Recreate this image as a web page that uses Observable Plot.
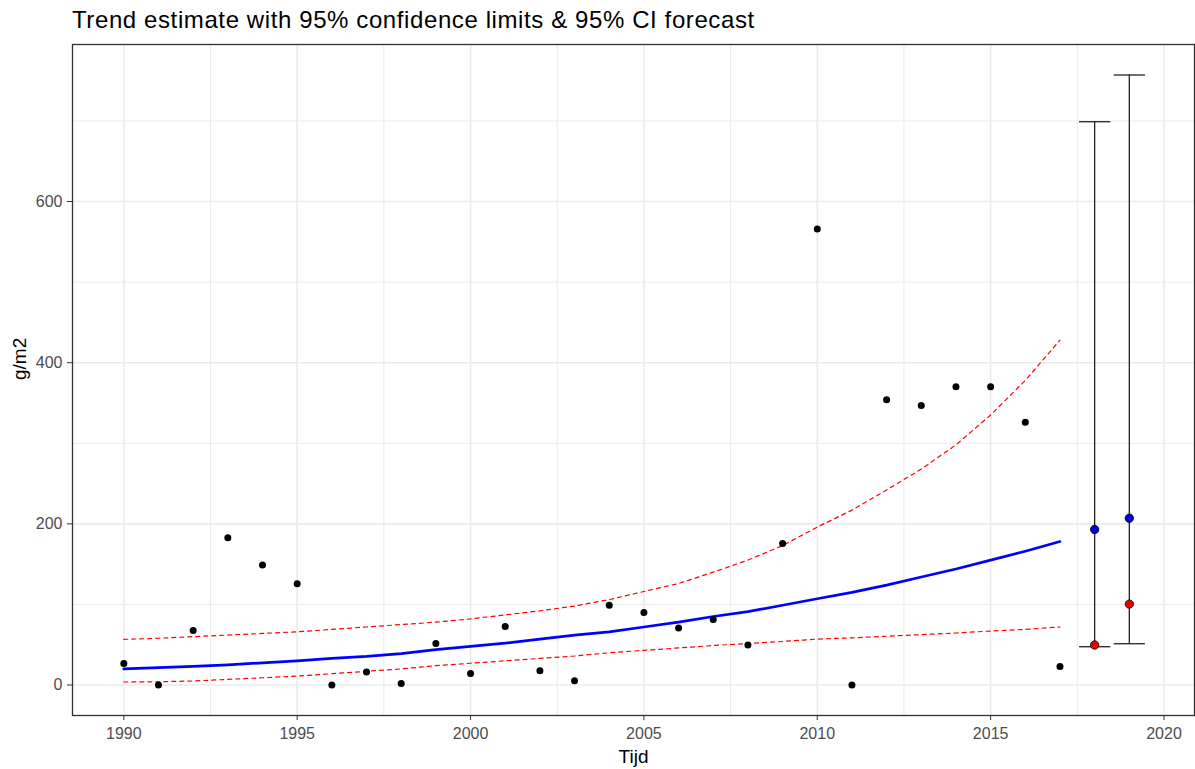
<!DOCTYPE html>
<html>
<head>
<meta charset="utf-8">
<script src="https://cdn.jsdelivr.net/npm/d3@7"></script>
<script src="https://cdn.jsdelivr.net/npm/@observablehq/plot@0.6"></script>
<style>
  html, body { margin: 0; padding: 0; background: #fff; }
  #title { box-sizing: border-box; height: 40px; padding: 8px 0 0 72px; font: 24px/24px "Liberation Sans", Arial, sans-serif; letter-spacing: 0.6px; color: #000; white-space: nowrap; }
  #chart svg { display: block; }
</style>
</head>
<body>
<div id="title">Trend estimate with 95% confidence limits &amp; 95% CI forecast</div>
<div id="chart"></div>
<script>
// Observed years and values (g/m2)
const years = [1990,1991,1992,1993,1994,1995,1996,1997,1998,1999,2000,2001,2002,2003,2004,2005,2006,2007,2008,2009,2010,2011,2012,2013,2014,2015,2016,2017];
const observed = [26.8,0,67.5,182.6,149,125.8,0,16,2,51.6,14.4,72.6,17.7,5.3,99,90,70.6,81.3,49.6,175.5,566,0,354,347,370,370,326,23];
// Trend estimate and 95% confidence limits
const trend = [20,21.5,23,25,27.5,30,33,35.5,39,44,48,52,57,62,66,72,78,85,91,99,107,115,124,134,144,155,166,178];
const upper = [56.6,58,60,62,64,66,69,72,75,78,82,87,92,98,106,116,126,140,155,173,196,217,242,268,298,335,378,428];
const lower = [3.7,4,5,7,9,11,14,17,20,24,27,30,33,36,40,43,46,49,51.5,54,57,58.5,60.5,62.5,64.5,67,69,72];
// Forecast with 95% CI
const fcYears = [2018, 2019];
const fcMean = [193, 207];      // blue points
const fcMedian = [49.6, 100.4]; // red points
const fcLow = [47.5, 51.2];
const fcHigh = [699, 757];
// Axis ticks
const xTicks = [1990, 1995, 2000, 2005, 2010, 2015, 2020];
const xMinor = [1992.5, 1997.5, 2002.5, 2007.5, 2012.5, 2017.5];
const yTicks = [0, 200, 400, 600];
const yMinor = [100, 300, 500, 700];
const capHalf = 0.45;

const obsData = years.map((y, i) => ({year: y, value: observed[i], trend: trend[i], upper: upper[i], lower: lower[i]}));
const fcData = fcYears.map((y, i) => ({year: y, mean: fcMean[i], median: fcMedian[i], low: fcLow[i], high: fcHigh[i]}));

const font = '"Liberation Sans", Arial, sans-serif';

const chart = Plot.plot({
  width: 1195,
  height: 729,
  marginTop: 4,
  marginBottom: 54,
  marginLeft: 72,
  marginRight: 1,
  style: {fontFamily: font, fontSize: "16px", background: "#fff"},
  x: {domain: [1988.52, 2020.88]},
  y: {domain: [-37.85, 794.85]},
  marks: [
    Plot.ruleX(xMinor, {stroke: "#EBEBEB", strokeWidth: 1}),
    Plot.ruleY(yMinor, {stroke: "#EBEBEB", strokeWidth: 1}),
    Plot.ruleX(xTicks, {stroke: "#EBEBEB", strokeWidth: 1.6}),
    Plot.ruleY(yTicks, {stroke: "#EBEBEB", strokeWidth: 1.6}),
    Plot.line(obsData, {x: "year", y: "upper", stroke: "red", strokeWidth: 1.2, strokeDasharray: "4,4"}),
    Plot.line(obsData, {x: "year", y: "lower", stroke: "red", strokeWidth: 1.2, strokeDasharray: "4,4"}),
    Plot.line(obsData, {x: "year", y: "trend", stroke: "blue", strokeWidth: 2.7}),
    Plot.dot(obsData, {x: "year", y: "value", r: 3.5, fill: "black", stroke: "none"}),
    Plot.ruleX(fcData, {x: "year", y1: "low", y2: "high", stroke: "#222", strokeWidth: 1.3}),
    Plot.link(fcData, {x1: d => d.year - capHalf, x2: d => d.year + capHalf, y1: "high", y2: "high", stroke: "#222", strokeWidth: 1.3}),
    Plot.link(fcData, {x1: d => d.year - capHalf, x2: d => d.year + capHalf, y1: "low", y2: "low", stroke: "#222", strokeWidth: 1.3}),
    Plot.dot(fcData, {x: "year", y: "mean", r: 4.2, fill: "#0000DD", stroke: "black", strokeWidth: 0.8}),
    Plot.dot(fcData, {x: "year", y: "median", r: 4.2, fill: "#EE0000", stroke: "black", strokeWidth: 0.8}),
    Plot.frame({stroke: "#333", strokeWidth: 1.3}),
    Plot.axisX(xTicks, {tickSize: 5, tickPadding: 7, fontSize: 16, stroke: "#333", fill: "#4D4D4D", label: null, tickFormat: d => String(d)}),
    Plot.axisY(yTicks, {tickSize: 5, tickPadding: 5, fontSize: 16, stroke: "#333", fill: "#4D4D4D", label: null}),
    Plot.text(["Tijd"], {text: d => d, frameAnchor: "bottom", dy: 41, lineAnchor: "middle", fontSize: 19, fill: "black"}),
    Plot.text(["g/m2"], {text: d => d, frameAnchor: "left", dx: -53, rotate: -90, fontSize: 19, fill: "black"})
  ]
});
document.getElementById("chart").appendChild(chart);
</script>
</body>
</html>
